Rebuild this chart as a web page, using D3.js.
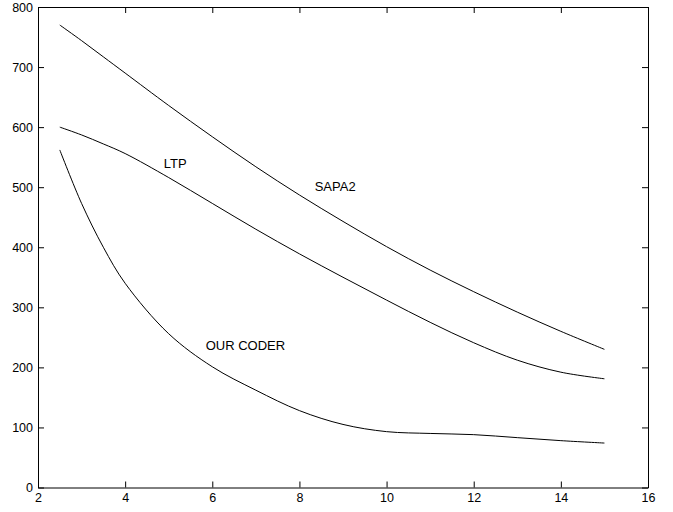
<!DOCTYPE html>
<html>
<head>
<meta charset="utf-8">
<script src="https://cdn.jsdelivr.net/npm/d3@7"></script>
<style>
  body { margin: 0; background: #fff; }
  svg { display: block; }
  .axis text { font-family: "Liberation Sans", Arial, sans-serif; font-size: 12.5px; fill: #000; }
  .axis path, .axis line { stroke: #000; stroke-width: 1; }
  .curve { fill: none; stroke: #000; stroke-width: 1; }
  .label { font-family: "Liberation Sans", Arial, sans-serif; font-size: 13px; fill: #000; }
</style>
</head>
<body>
<div id="chart"></div>
<script>
// data
const xs = [2.5, 3, 3.5, 4, 5, 6, 7, 8, 9, 10, 11, 12, 13, 14, 15];
const sapa2 = [770, 744, 717, 690, 636, 584, 534, 487, 443, 401, 362, 326, 292, 260, 230];
const ltp = [600, 587, 572, 556, 516, 473, 430, 389, 350, 312, 275, 241, 212, 192, 181];
const ourCoder = [562, 473, 400, 340, 256, 201, 162, 128, 105, 93, 90, 88, 83, 78, 74];

const xTicks = [2, 4, 6, 8, 10, 12, 14, 16];
const yTicks = [0, 100, 200, 300, 400, 500, 600, 700, 800];

const labels = [
  { text: 'LTP', x: 5.15, y: 539 },
  { text: 'SAPA2', x: 8.82, y: 501 },
  { text: 'OUR CODER', x: 6.76, y: 237 }
];

const W = 673, H = 512;
const margin = { top: 7, right: 25, bottom: 24.5, left: 38 };
const width = W - margin.left - margin.right;
const height = H - margin.top - margin.bottom;

const svg = d3.select('#chart').append('svg')
  .attr('width', W)
  .attr('height', H);

const g = svg.append('g')
  .attr('transform', `translate(${margin.left},${margin.top})`);

const x = d3.scaleLinear().domain([2, 16]).range([0, width]);
const y = d3.scaleLinear().domain([0, 800]).range([height, 0]);

// box with inward ticks on every side
g.append('g')
  .attr('class', 'axis')
  .attr('transform', `translate(0,${height})`)
  .call(d3.axisBottom(x).tickValues(xTicks).tickSize(-6).tickSizeOuter(0).tickPadding(6));

g.append('g')
  .attr('class', 'axis')
  .call(d3.axisLeft(y).tickValues(yTicks).tickSize(-6).tickSizeOuter(0).tickPadding(5));

g.append('g')
  .attr('class', 'axis')
  .call(d3.axisTop(x).tickValues(xTicks).tickSize(-6).tickSizeOuter(0).tickFormat(''));

g.append('g')
  .attr('class', 'axis')
  .attr('transform', `translate(${width},0)`)
  .call(d3.axisRight(y).tickValues(yTicks).tickSize(-6).tickSizeOuter(0).tickFormat(''));

// curves
const line = d3.line()
  .x(d => x(d[0]))
  .y(d => y(d[1]))
  .curve(d3.curveCatmullRom.alpha(0.5));

[sapa2, ltp, ourCoder].forEach(series => {
  g.append('path')
    .attr('class', 'curve')
    .attr('d', line(xs.map((v, i) => [v, series[i]])));
});

// curve names
g.selectAll('.label')
  .data(labels)
  .enter().append('text')
    .attr('class', 'label')
    .attr('x', d => x(d.x))
    .attr('y', d => y(d.y))
    .attr('text-anchor', 'middle')
    .attr('dominant-baseline', 'central')
    .text(d => d.text);
</script>
</body>
</html>
